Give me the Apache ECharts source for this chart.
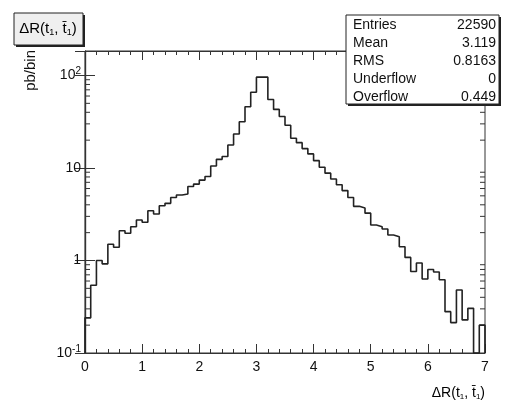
<!DOCTYPE html>
<html>
<head>
<meta charset="utf-8">
<script src="https://cdn.jsdelivr.net/npm/echarts@6/dist/echarts.min.js"></script>
<style>
  html, body { margin: 0; padding: 0; background: #fff; }
  #main { width: 516px; height: 411px; }
</style>
</head>
<body>
<div id="main"></div>
<script>
// histogram: 70 bins of 0.1 from 0 to 7, pb/bin
var xRange = [0, 7];
var counts = [
    0.24, 0.54, 1.0, 0.92, 1.5, 1.39, 2.1, 1.97, 2.32, 2.74,
    2.59, 3.45, 3.18, 3.9, 4.15, 4.8, 5.1, 5.24, 6.3, 6.7,
    7.4, 8.1, 10.5, 12.4, 13.3, 17.7, 23.3, 31.6, 46, 66,
    96, 96, 55, 43, 36, 29, 21, 18.8, 16.2, 14.2,
    12, 10.2, 8.8, 7.6, 6.6, 5.7, 4.8, 3.85, 3.7, 3.25,
    2.42, 2.32, 2.19, 1.89, 1.81, 1.41, 1.08, 0.76, 0.94, 0.63,
    0.8, 0.75, 0.62, 0.28, 0.213, 0.48, 0.228, 0.304, 0.1, 0.2
];
var yRange = [0.1, 184];
var yMajor = [0.1, 1, 10, 100];

var statNames = ['Entries', 'Mean', 'RMS', 'Underflow', 'Overflow'];
var statValues = ['22590', '3.119', '0.8163', '0', '0.449'];

var FONT = 'Liberation Sans';

var nBins = counts.length;
var binW = (xRange[1] - xRange[0]) / nBins;
var stepData = [[xRange[0], yRange[0]]];
for (var i = 0; i < nBins; i++) {
    stepData.push([+(xRange[0] + i * binW).toFixed(3), counts[i]]);
}
stepData.push([xRange[1], counts[nBins - 1]]);
stepData.push([xRange[1], yRange[0]]);

// minor ticks of the log axis: 2..9 x 10^k
var yMinor = [];
yMajor.forEach(function (d) {
    for (var m = 2; m <= 9; m++) {
        var v = +(d * m).toPrecision(3);
        if (v < yRange[1]) yMinor.push([0, v]);
    }
});

function logLabel(v) {
    var p = Math.round(Math.log(v) / Math.LN10);
    if (Math.abs(Math.log(v) / Math.LN10 - p) > 1e-6) return '';
    if (p === 0) return '{b|1}';
    if (p === 1) return '{b|10}';
    return '{b|10}{sup|' + p + '}';
}

var richLab = {
    b: {fontFamily: FONT, fontSize: 14, color: '#111'},
    sup: {fontFamily: FONT, fontSize: 10, color: '#111', padding: [0, 0, 8, 0]}
};
var richTitle = {
    b: {fontFamily: FONT, fontSize: 15, color: '#111'},
    sub: {fontFamily: FONT, fontSize: 9, color: '#111', padding: [8, 0, 0, 0]}
};

var xBase = {
    type: 'value', min: xRange[0], max: xRange[1], interval: 1,
    axisLine: {show: true, lineStyle: {color: '#333', width: 1.2}},
    axisTick: {show: true, inside: true, length: 9, lineStyle: {color: '#333'}},
    minorTick: {show: true, splitNumber: 5, length: 4, lineStyle: {color: '#333'}},
    splitLine: {show: false}
};
var yBase = {
    type: 'log', logBase: 10, min: yRange[0], max: yRange[1],
    axisLine: {show: true, lineStyle: {color: '#333', width: 1.2}},
    axisTick: {show: true, inside: true, length: 10, lineStyle: {color: '#333'}},
    splitLine: {show: false}
};

var myChart = echarts.init(document.getElementById('main'));
myChart.setOption({
    animation: false,
    backgroundColor: '#fff',
    grid: {left: 85, right: 31, top: 51, bottom: 58, show: true, borderColor: '#333', borderWidth: 1},
    xAxis: [
        echarts.util.merge({
            position: 'bottom',
            axisLabel: {fontFamily: FONT, fontSize: 14, color: '#111', margin: 7}
        }, xBase),
        echarts.util.merge({position: 'top', axisLabel: {show: false}}, xBase)
    ],
    yAxis: [
        echarts.util.merge({
            position: 'left',
            axisLabel: {margin: 4, formatter: logLabel, rich: richLab}
        }, yBase),
        echarts.util.merge({position: 'right', axisLabel: {show: false}}, yBase)
    ],
    series: [
        {
            type: 'line',
            step: 'end',
            data: stepData,
            showSymbol: false,
            symbol: 'none',
            clip: false,
            lineStyle: {color: '#222', width: 1.6}
        },
        {
            type: 'custom',
            silent: true,
            clip: false,
            data: yMinor,
            encode: {x: 0, y: 1},
            renderItem: function (params, api) {
                var cs = params.coordSys;
                var p = api.coord([0, api.value(1)]);
                var st = {stroke: '#333', lineWidth: 1};
                return {
                    type: 'group',
                    children: [
                        {type: 'line', shape: {x1: cs.x, y1: p[1], x2: cs.x + 5, y2: p[1]}, style: st},
                        {type: 'line', shape: {x1: cs.x + cs.width - 5, y1: p[1], x2: cs.x + cs.width, y2: p[1]}, style: st}
                    ]
                };
            }
        }
    ],
    graphic: [
        // title box
        {type: 'rect', shape: {x: 16, y: 15, width: 69, height: 32}, style: {fill: '#222'}, z: 10},
        {type: 'rect', shape: {x: 14, y: 13, width: 69, height: 32}, style: {fill: '#efefef', stroke: '#222', lineWidth: 1}, z: 11},
        {type: 'text', x: 48, y: 29, z: 12, style: {
            text: '{b|ΔR(t}{sub|1}{b|, t\u0304}{sub|1}{b|)}', rich: richTitle,
            align: 'center', verticalAlign: 'middle'}},
        // y title
        {type: 'text', x: 31, y: 50, rotation: Math.PI / 2, z: 12, style: {
            text: 'pb/bin', fontFamily: FONT, fontSize: 15, fill: '#111',
            align: 'right', verticalAlign: 'middle'}},
        // x title
        {type: 'text', x: 485, y: 393, z: 12, style: {
            text: '{b|ΔR(t}{sub|1}{b|, t\u0304}{sub|1}{b|)}',
            rich: {
                b: {fontFamily: FONT, fontSize: 14, color: '#111'},
                sub: {fontFamily: FONT, fontSize: 8, color: '#111', padding: [7, 0, 0, 0]}
            },
            align: 'right', verticalAlign: 'middle'}},
        // stats box
        {type: 'rect', shape: {x: 348, y: 17, width: 153, height: 89}, style: {fill: '#222'}, z: 10},
        {type: 'rect', shape: {x: 346, y: 15, width: 153, height: 89}, style: {fill: '#fff', stroke: '#222', lineWidth: 1}, z: 11}
    ].concat(statNames.map(function (n, k) {
        return {type: 'text', x: 353, y: 25 + k * 18, z: 12, style: {
            text: n, fontFamily: FONT, fontSize: 14, fill: '#111', align: 'left', verticalAlign: 'middle'}};
    })).concat(statValues.map(function (v, k) {
        return {type: 'text', x: 496, y: 25 + k * 18, z: 12, style: {
            text: v, fontFamily: FONT, fontSize: 14, fill: '#111', align: 'right', verticalAlign: 'middle'}};
    }))
});
</script>
</body>
</html>
